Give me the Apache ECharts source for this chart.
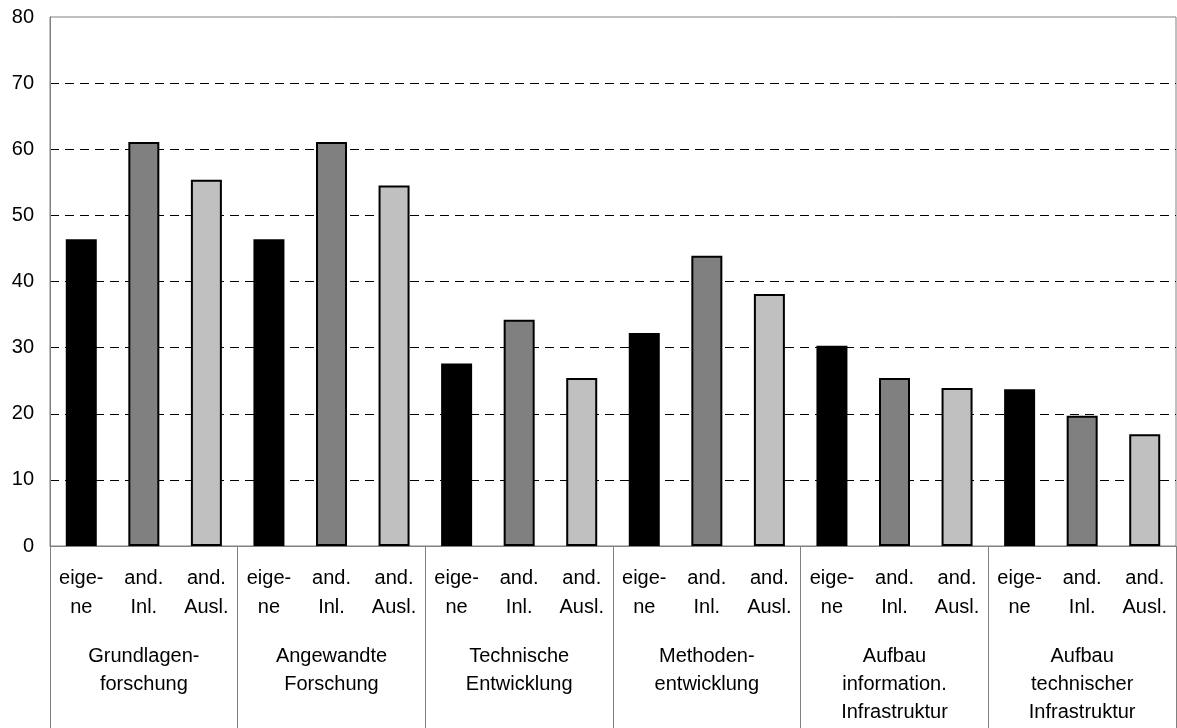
<!DOCTYPE html>
<html>
<head>
<meta charset="utf-8">
<script src="https://cdn.jsdelivr.net/npm/echarts@6/dist/echarts.min.js"></script>
<style>
html,body{margin:0;padding:0;background:#fff;}
#chart{width:1177px;height:728px;}
</style>
</head>
<body>
<div id="chart"></div>
<script>
// Data
const groups = ["Grundlagen-\nforschung", "Angewandte\nForschung", "Technische\nEntwicklung", "Methoden-\nentwicklung", "Aufbau\ninformation.\nInfrastruktur", "Aufbau\ntechnischer\nInfrastruktur"];
const subLabels = ["eige-\nne", "and.\nInl.", "and.\nAusl."];
const eigene = [46.4, 46.4, 27.6, 32.2, 30.3, 23.7];
const andInl = [61.1, 61.1, 34.2, 43.9, 25.4, 19.7];
const andAusl = [55.4, 54.5, 25.4, 38.1, 23.9, 16.9];
const yTicks = [0, 10, 20, 30, 40, 50, 60, 70, 80];
const colors = ["#000000", "#808080", "#c0c0c0"];

const seriesVals = [eigene, andInl, andAusl];
const cats = [];
const barData = [];
groups.forEach((g, gi) => {
  subLabels.forEach((s, si) => {
    cats.push(s);
    barData.push({ value: seriesVals[si][gi], itemStyle: { color: colors[si] } });
  });
});

const font = "'Liberation Sans', Arial, sans-serif";
const chart = echarts.init(document.getElementById('chart'));
chart.setOption({
  animation: false,
  backgroundColor: '#ffffff',
  grid: { left: 50, right: 1, top: 17, bottom: 182, show: true, borderColor: '#808080', borderWidth: 1, containLabel: false },
  xAxis: [
    {
      type: 'category', data: cats, position: 'bottom', boundaryGap: true,
      axisLine: { show: true, lineStyle: { color: '#808080', width: 1 } },
      axisTick: { show: false },
      axisLabel: { interval: 0, margin: 18, fontSize: 20, lineHeight: 29, color: '#000', fontFamily: font, align: 'center' },
      splitLine: { show: false }
    },
    {
      type: 'category', data: groups, position: 'bottom', boundaryGap: true,
      axisLine: { show: false },
      axisTick: { show: true, interval: 0, length: 182, lineStyle: { color: '#808080', width: 1 } },
      axisLabel: { interval: 0, margin: 96, fontSize: 20, lineHeight: 28, color: '#000', fontFamily: font, align: 'center' },
      splitLine: { show: false }
    }
  ],
  yAxis: {
    type: 'value', min: yTicks[0], max: yTicks[yTicks.length - 1], interval: 10,
    axisLine: { show: true, lineStyle: { color: '#808080', width: 1 } },
    axisTick: { show: false },
    axisLabel: { margin: 16, fontSize: 20, color: '#000', fontFamily: font },
    splitLine: { show: true, showMinLine: false, showMaxLine: false, lineStyle: { color: '#000', type: [9, 6], width: 1 } }
  },
  series: [{
    type: 'bar', xAxisIndex: 0, data: barData, barWidth: 31,
    itemStyle: { borderColor: '#000', borderWidth: 2 }
  }]
});
</script>
</body>
</html>
